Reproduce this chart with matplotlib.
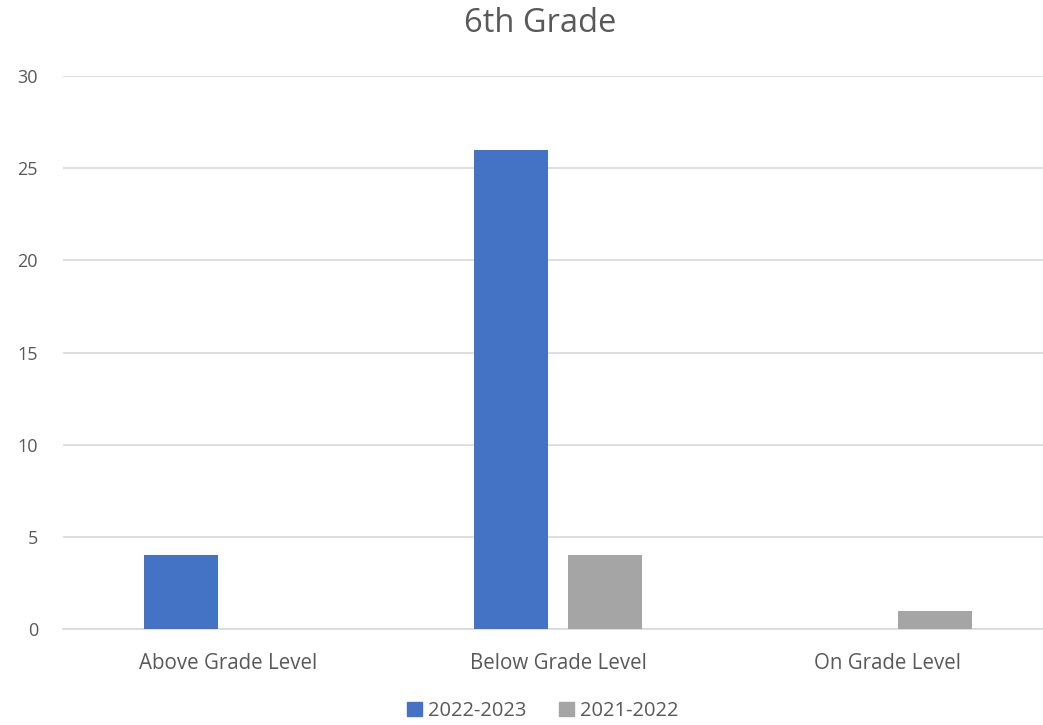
import matplotlib
matplotlib.use("Agg")
import matplotlib.pyplot as plt
import numpy as np
from matplotlib.patches import Patch

categories = ["Above Grade Level", "Below Grade Level", "On Grade Level"]
series_names = ["2022-2023", "2021-2022"]
values_2022_2023 = [4, 26, 0]
values_2021_2022 = [0, 4, 1]
colors = ["#4472C4", "#A5A5A5"]
yticks = [0, 5, 10, 15, 20, 25, 30]

plt.rcParams["font.family"] = ["Open Sans", "DejaVu Sans"]
text_color = "#595959"

fig = plt.figure(figsize=(10.43, 7.25), dpi=100)
W, H = 1043, 725
ax = fig.add_axes([63 / W, 1 - 629 / H, 990 / W, (629 - 76) / H])

x = np.arange(len(categories))
bw = 74 / 330
off = 47 / 330
ax.bar(x - off, values_2022_2023, bw, color=colors[0], zorder=3)
ax.bar(x + off, values_2021_2022, bw, color=colors[1], zorder=3)

ax.set_xlim(-0.5, len(categories) - 0.5)
ax.set_ylim(0, 30)
ax.set_yticks(yticks)
ax.set_xticks(x)
ax.set_xticklabels(categories)
ax.grid(axis="y", color="#D9D9D9", linewidth=1.2, zorder=0)
for s in ["top", "right", "left"]:
    ax.spines[s].set_visible(False)
ax.spines["bottom"].set_color("#D9D9D9")
ax.spines["bottom"].set_linewidth(1.2)
ax.tick_params(axis="both", length=0, colors=text_color)
ax.tick_params(axis="y", pad=18, labelsize=13)
ax.tick_params(axis="x", pad=17, labelsize=14.8)

fig.text(540 / W, 1 - 23 / H, "6th Grade", ha="center", va="center",
         fontsize=23.5, color=text_color)

handles = [Patch(color=c, label=n) for c, n in zip(colors, series_names)]
fig.legend(handles=handles, loc="center", bbox_to_anchor=(543 / W, 1 - 711 / H),
           ncol=2, frameon=False, fontsize=14.5, handlelength=0.75, handleheight=0.75,
           handletextpad=0.3, columnspacing=1.6, labelcolor=text_color)

fig.savefig("out.png", dpi=100)
